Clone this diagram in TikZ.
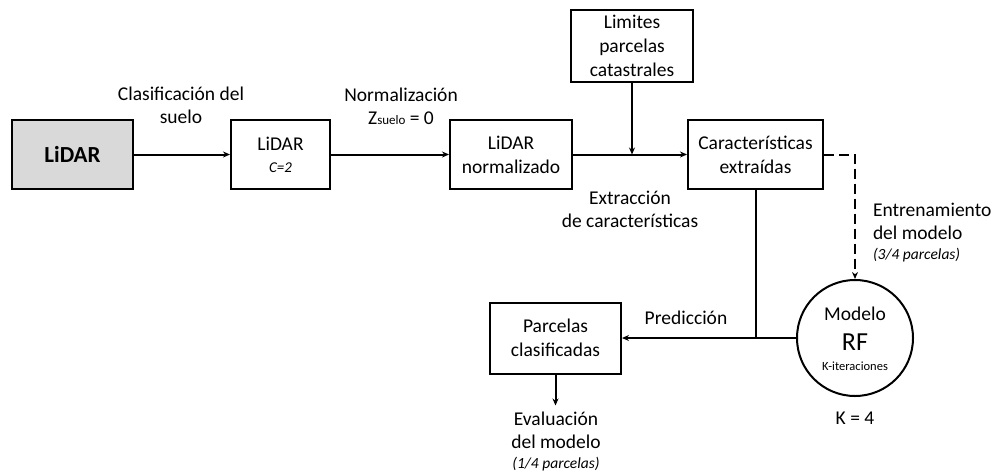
\documentclass[tikz,border=0pt]{standalone}
\usepackage{fontspec}
\setmainfont{Carlito}
\usetikzlibrary{arrows.meta,calc}
\definecolor{lidargray}{RGB}{217,217,217}
\tikzset{box/.style={draw, align=center, inner sep=0pt, font=\fontsize{19.5}{24}\selectfont},
  lbl/.style={align=center, inner sep=0pt, font=\fontsize{19.5}{23}\selectfont},
  tip/.style={-{Stealth[length=7pt,width=6pt]}},
  small/.style={font=\fontsize{12.5}{14}\selectfont}}

\begin{document}
\begin{tikzpicture}[x=1pt,y=-1pt,line width=2pt]
   \useasboundingbox (0,0) rectangle (994,472);
   % boxes
   \node[box, fill=lidargray, minimum width=121pt, minimum height=69pt,
         font=\bfseries\fontsize{23}{26}\selectfont] (lidar) at (72.5,154.5) {LiDAR};
   \node[box, minimum width=99pt, minimum height=69pt] (clasif) at (280.5,154.5)
         {LiDAR\\[-2pt]{\itshape\fontsize{15}{15}\selectfont C=2}};
   \node[box, minimum width=122pt, minimum height=69pt] (norm) at (511,154.5) {LiDAR\\normalizado};
   \node[box, minimum width=122pt, minimum height=72pt] (limites) at (632,46) {Limites\\parcelas\\catastrales};
   \node[box, minimum width=135pt, minimum height=69pt] (caract) at (755.5,154.5) {Características\\extraídas};
   \node[box, minimum width=131pt, minimum height=71pt] (parcelas) at (555.5,338) {Parcelas\\clasificadas};
   \node[draw, circle, minimum size=116pt, inner sep=0pt] (rf) at (855,338) {};
   \node[lbl] (modelo) at ($(rf)+(0,-24)$) {Modelo};
   \node[lbl, font=\fontsize{26}{26}\selectfont] (rfname) at ($(rf)+(0,4)$) {RF};
   \node[lbl, small] (kiter) at ($(rf)+(0,28)$) {K-iteraciones};
   % connectors
   \draw[tip] (lidar) -- (clasif);
   \draw[tip] (clasif) -- (norm);
   \draw[tip] (norm) -- (caract);
   \draw[tip] (limites.south) -- (limites.south |- norm.east);
   \draw[tip, dash pattern=on 10pt off 5pt] (caract.east) -| (rf.north);
   \coordinate (junction) at (caract.south |- rf.west);
   \draw (caract.south) -- (junction);
   \draw[tip] (rf.west) -- (parcelas.east);
   \coordinate (evalend) at ($(parcelas.south)+(0,31)$);
   \draw[tip] (parcelas.south) -- (evalend);
   % labels
   \node[lbl] (lclasif) at (181,105) {Clasificación del\\suelo};
   \node[lbl] (lnorm) at (401,106) {Normalización\\Z{\fontsize{13}{13}\selectfont suelo} = 0};
   \node[lbl] (lextr) at (630,209) {Extracción\\de características};
   \node[lbl, align=left, anchor=west] (lentr) at (872,233)
         {Entrenamiento\\del modelo\\[-3pt]{\itshape\fontsize{15.5}{18}\selectfont (3/4 parcelas)}};
   \node[lbl] (lpred) at (686,318) {Predicción};
   \node[lbl] (leval) at (556,441) {Evaluación\\del modelo\\[-3pt]{\itshape\fontsize{15.5}{18}\selectfont (1/4 parcelas)}};
   \node[lbl] (lk) at (855,418) {K = 4};
\end{tikzpicture}
\end{document}
